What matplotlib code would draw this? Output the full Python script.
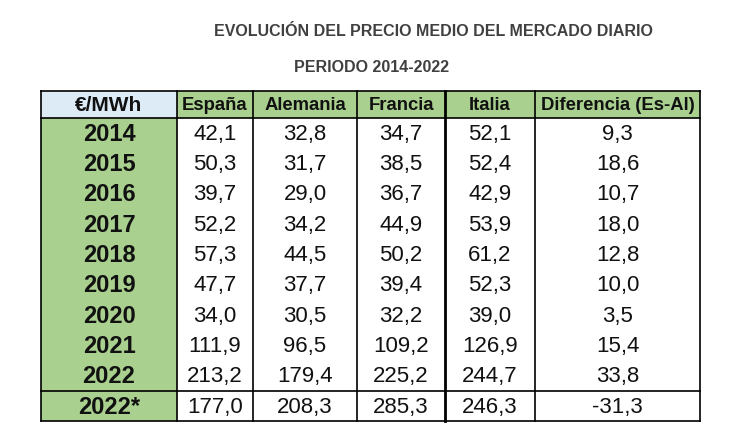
import matplotlib.pyplot as plt
from matplotlib.patches import Rectangle

# --- data ---
years = ['2014', '2015', '2016', '2017', '2018', '2019', '2020', '2021', '2022', '2022*']
columns = ['España', 'Alemania', 'Francia', 'Italia', 'Diferencia (Es-Al)']
espana = [42.1, 50.3, 39.7, 52.2, 57.3, 47.7, 34.0, 111.9, 213.2, 177.0]
alemania = [32.8, 31.7, 29.0, 34.2, 44.5, 37.7, 30.5, 96.5, 179.4, 208.3]
francia = [34.7, 38.5, 36.7, 44.9, 50.2, 39.4, 32.2, 109.2, 225.2, 285.3]
italia = [52.1, 52.4, 42.9, 53.9, 61.2, 52.3, 39.0, 126.9, 244.7, 246.3]
diferencia = [9.3, 18.6, 10.7, 18.0, 12.8, 10.0, 3.5, 15.4, 33.8, -31.3]

title = 'EVOLUCIÓN DEL PRECIO MEDIO DEL MERCADO DIARIO'
subtitle = 'PERIODO 2014-2022'

# --- layout (pixels) ---
W, H = 738, 432
col_edges = [41, 177, 253, 357, 445, 535, 700]
top, head_bot, last_top, bottom = 91, 118, 391, 421
green = '#A9D08E'
blue = '#DDEBF7'
font = ['Liberation Sans', 'DejaVu Sans']

fig = plt.figure(figsize=(W / 100, H / 100), dpi=100)
ax = fig.add_axes([0, 0, 1, 1])
ax.set_xlim(0, W)
ax.set_ylim(H, 0)
ax.axis('off')

ax.text(433, 31, title, ha='center', va='center', fontsize=11.5,
        fontweight='bold', color='#404040', family=font)
ax.text(372, 68, subtitle, ha='center', va='center', fontsize=11.5,
        fontweight='bold', color='#404040', family=font)

# row positions
n_body = len(years) - 1
row_h = (last_top - head_bot) / n_body
row_tops = [head_bot + i * row_h for i in range(n_body)] + [last_top]
row_bots = row_tops[1:] + [bottom]

# backgrounds
ax.add_patch(Rectangle((col_edges[0], top), col_edges[1] - col_edges[0],
                       head_bot - top, facecolor=blue, edgecolor='none'))
ax.add_patch(Rectangle((col_edges[1], top), col_edges[-1] - col_edges[1],
                       head_bot - top, facecolor=green, edgecolor='none'))
ax.add_patch(Rectangle((col_edges[0], head_bot), col_edges[1] - col_edges[0],
                       bottom - head_bot, facecolor=green, edgecolor='none'))

# header text
ax.text((col_edges[0] + col_edges[1]) / 2, (top + head_bot) / 2 + 1, '€/MWh',
        ha='center', va='center', fontsize=15, fontweight='bold',
        color='#111111', family=font)
for j, name in enumerate(columns):
    ax.text((col_edges[j + 1] + col_edges[j + 2]) / 2, (top + head_bot) / 2 + 1,
            name, ha='center', va='center', fontsize=13.3, fontweight='bold',
            color='#111111', family=font)

# body
series = [espana, alemania, francia, italia, diferencia]
for i, yr in enumerate(years):
    yc = (row_tops[i] + row_bots[i]) / 2 + 1
    ax.text((col_edges[0] + col_edges[1]) / 2, yc, yr, ha='center', va='center',
            fontsize=17, fontweight='bold', color='#111111', family=font)
    for j, vals in enumerate(series):
        label = f'{vals[i]:.1f}'.replace('.', ',')
        ax.text((col_edges[j + 1] + col_edges[j + 2]) / 2, yc, label,
                ha='center', va='center', fontsize=16, color='#111111',
                family=font)

# borders
lw = 1.2
for y in [top, head_bot, last_top, bottom]:
    ax.plot([col_edges[0], col_edges[-1]], [y, y], color='black', lw=lw)
for k, x in enumerate(col_edges):
    ax.plot([x, x], [top, bottom], color='black', lw=2.0 if k == 4 else lw)

fig.savefig('out.png', dpi=100)
